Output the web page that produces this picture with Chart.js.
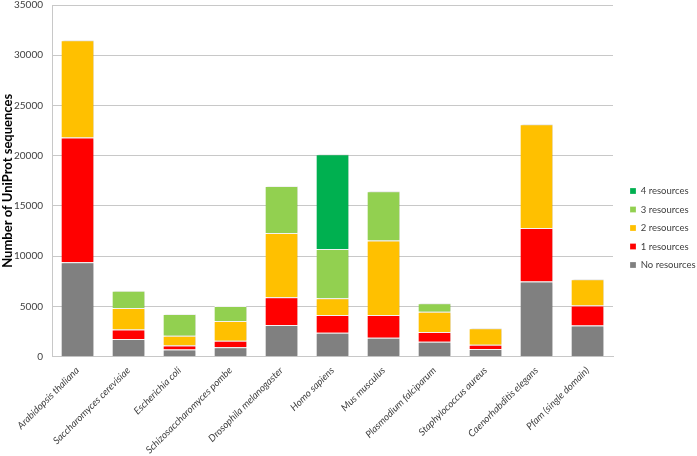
<!DOCTYPE html>
<html>
<head>
<meta charset="utf-8">
<script src="https://cdn.jsdelivr.net/npm/chart.js@4/dist/chart.umd.min.js"></script>
<style>
  html, body { margin: 0; padding: 0; background: #fff; }
  #wrap { width: 697px; height: 456px; }
</style>
</head>
<body>
<div id="wrap"><canvas id="grafico"></canvas></div>
<script>
// Especies / conjuntos de datos
const especies = [
  'Arabidopsis thaliana', 'Saccharomyces cerevisiae', 'Escherichia coli',
  'Schizosaccharomyces pombe', 'Drosophila melanogaster', 'Homo sapiens',
  'Mus musculus', 'Plasmodium falciparum', 'Staphylococcus aureus',
  'Caenorhabditis elegans', 'Pfam (single domain)'
];

// Secuencias por número de recursos (apiladas)
const sinRecursos = [9400, 1750, 700, 930, 3150, 2390, 1890, 1490, 760, 7470, 3090];
const recursos1   = [12400, 940, 400, 660, 2750, 1750, 2250, 960, 430, 5340, 1990];
const recursos2   = [9700, 2150, 990, 1960, 6410, 1670, 7410, 2030, 1630, 10330, 2620];
const recursos3   = [0, 1730, 2150, 1490, 4680, 4910, 4910, 830, 0, 0, 0];
const recursos4   = [0, 0, 0, 0, 0, 9430, 0, 0, 0, 0, 0];

const yTicks = [0, 5000, 10000, 15000, 20000, 25000, 30000, 35000];

const COLORES = {
  ninguno: '#808080',
  uno: '#ff0000',
  dos: '#ffc000',
  tres: '#92d050',
  cuatro: '#00b050',
};

const FUENTE = 'Lato, "Open Sans", sans-serif';

const serie = (label, data, color) => ({
  label,
  data,
  backgroundColor: color,
  borderColor: '#ffffff',
  borderWidth: { top: 1, bottom: 0, left: 0, right: 0 },
  borderSkipped: false,
  categoryPercentage: 1,
  barPercentage: 0.63,
});

// Leyenda estrecha pegada al borde derecho, como en el original
const leyendaAjuste = {
  id: 'leyendaAjuste',
  afterLayout(chart) {
    chart.legend.left += 8;
    chart.legend.right += 8;
  }
};

// Sombra suave a la derecha de las barras
const sombraBarras = {
  id: 'sombraBarras',
  beforeDatasetsDraw(chart) {
    const ctx = chart.ctx;
    ctx.save();
    ctx.shadowColor = 'rgba(0,0,0,0.18)';
    ctx.shadowBlur = 2;
    ctx.shadowOffsetX = 1.5;
    ctx.shadowOffsetY = 0;
  },
  afterDatasetsDraw(chart) {
    chart.ctx.restore();
  }
};

const grafico = new Chart(document.getElementById('grafico'), {
  type: 'bar',
  data: {
    labels: especies,
    datasets: [
      serie('No resources', sinRecursos, COLORES.ninguno),
      serie('1 resources', recursos1, COLORES.uno),
      serie('2 resources', recursos2, COLORES.dos),
      serie('3 resources', recursos3, COLORES.tres),
      serie('4 resources', recursos4, COLORES.cuatro),
    ]
  },
  plugins: [leyendaAjuste, sombraBarras],
  options: {
    responsive: true,
    maintainAspectRatio: false,
    animation: false,
    layout: { padding: { top: 0, right: 0, left: 0, bottom: 0 } },
    plugins: {
      legend: {
        position: 'right',
        reverse: true,
        labels: {
          boxWidth: 6, boxHeight: 6, padding: 9,
          color: '#404040',
          font: { family: FUENTE, size: 9.5 }
        }
      },
      tooltip: { enabled: false }
    },
    scales: {
      x: {
        stacked: true,
        grid: { display: false },
        border: { display: true, color: '#c8c8c8' },
        afterFit: s => { s.paddingLeft = 0; s.paddingRight = 0; },
        ticks: {
          minRotation: 45, maxRotation: 45, autoSkip: false,
          padding: 0,
          color: '#404040',
          font: { family: FUENTE, size: 9.8, style: 'italic' }
        }
      },
      y: {
        stacked: true,
        min: 0, max: 35000,
        afterBuildTicks: axis => { axis.ticks = yTicks.map(v => ({ value: v })); },
        afterFit: s => { s.width = 52; s.paddingTop = 5; s.paddingBottom = 0; },
        grid: { color: '#c8c8c8', drawTicks: false },
        border: { display: true, color: '#c8c8c8' },
        ticks: {
          padding: 9,
          color: '#404040',
          font: { family: FUENTE, size: 10 },
          callback: v => String(v)
        },
        title: {
          display: true,
          text: 'Number of UniProt sequences',
          color: '#000',
          font: { family: FUENTE, size: 13, weight: 'bold' },
          padding: { top: 0, bottom: 0 }
        }
      }
    }
  }
});

// Ancho fijo de la leyenda para dejar el área del gráfico hasta x≈613
const fitOriginal = grafico.legend.fit;
grafico.legend.fit = function () {
  fitOriginal.call(this);
  this.width = 84;
};
grafico.update();
</script>
</body>
</html>
